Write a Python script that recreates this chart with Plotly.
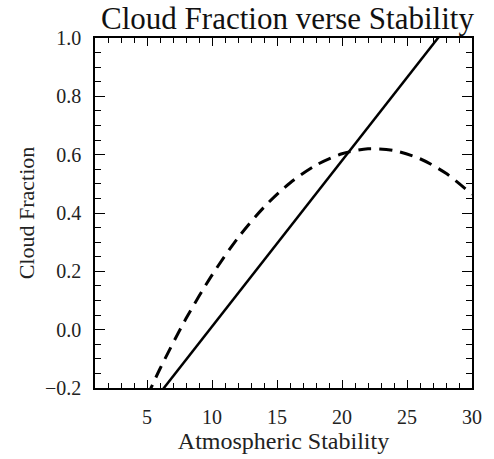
import plotly.graph_objects as go

# Linear fit of cloud fraction against atmospheric stability
fit_stability = [5.0, 30.0]
fit_fraction = [-0.274, 1.149]

# Quadratic-shaped relationship (dashed curve)
curve_stability = [5.0, 6.0, 8.0, 10.0, 12.0, 14.0, 16.0, 18.0, 20.0, 22.0, 24.0, 26.0, 28.0, 30.0]
curve_fraction = [-0.23, -0.134, 0.038, 0.187, 0.315, 0.42, 0.503, 0.564, 0.603, 0.62, 0.614, 0.586, 0.536, 0.464]

title_text = "Cloud Fraction verse Stability"
x_title = "Atmospheric Stability"
y_title = "Cloud Fraction"

serif = "Liberation Serif, Times New Roman, serif"

fig = go.Figure()
fig.add_trace(go.Scatter(
    x=curve_stability, y=curve_fraction, mode="lines",
    line=dict(color="black", width=3, dash="13px,8px", shape="spline", smoothing=0.8),
    showlegend=False, hoverinfo="skip",
))
fig.add_trace(go.Scatter(
    x=fit_stability, y=fit_fraction, mode="lines",
    line=dict(color="black", width=2.5),
    showlegend=False, hoverinfo="skip",
))

axis_common = dict(
    showgrid=False, zeroline=False,
    showline=True, linecolor="black", linewidth=1.5,
    mirror="allticks", ticks="inside", tickcolor="black", tickwidth=1.2,
    tickfont=dict(family=serif, size=20, color="#222"),
)

fig.update_xaxes(
    range=[1, 30], tickmode="linear", tick0=0, dtick=5, ticklen=8,
    minor=dict(dtick=1, tick0=0, ticks="inside", ticklen=5, tickcolor="black", tickwidth=1.2),
    title=dict(text=x_title, font=dict(family=serif, size=24, color="#222"), standoff=2),
    ticklabelstandoff=10,
    **axis_common,
)
fig.update_yaxes(
    range=[-0.2, 1.0], tickmode="linear", tick0=0, dtick=0.2, ticklen=10,
    tickformat=".1f",
    minor=dict(dtick=0.05, tick0=0, ticks="inside", ticklen=6, tickcolor="black", tickwidth=1.2),
    title=dict(text=y_title, font=dict(family=serif, size=22, color="#222"), standoff=4),
    ticklabelstandoff=8,
    **axis_common,
)

fig.update_layout(
    width=494, height=459,
    margin=dict(l=95, r=14, t=38, b=61),
    paper_bgcolor="white", plot_bgcolor="white",
    title=dict(text=title_text, font=dict(family=serif, size=31, color="#111"),
               x=(95 + 480) / 2 / 494, xanchor="center", xref="container",
               y=1 - 18 / 459, yanchor="middle", yref="container"),
)

fig.write_html("out.html")
